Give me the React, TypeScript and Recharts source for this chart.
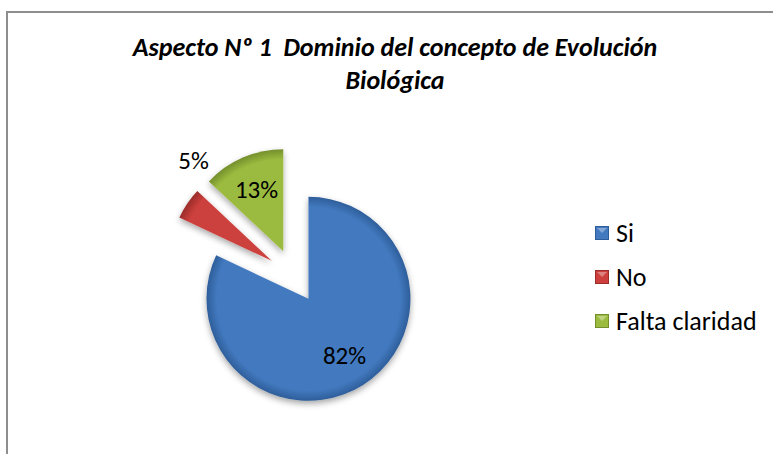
import { PieChart, Pie, Cell, Legend } from "recharts"

const categories = ["Si", "No", "Falta claridad"]
const values = [82, 5, 13]
const colors = ["#4279bf", "#cc3f3c", "#9bbb3f"]
const rims = ["#2e5e9a", "#9a2c2a", "#748f2c"]

const titleLines = ["Aspecto Nº 1  Dominio del concepto de Evolución", "Biológica"]

const FONT = "Calibri, Carlito, Lato, sans-serif"
const CX = 294
const CY = 276
const R = 102
const EXPLODE = 27
const RAD = Math.PI / 180

const data = categories.map((name, i) => ({ name, value: values[i] }))

const total = values.reduce((s, v) => s + v, 0)

// mid angle of every slice, recharts convention (start 90, clockwise)
const midAngles = values.map((v, i) => {
  const before = values.slice(0, i).reduce((s, x) => s + x, 0)
  return 90 - ((before + v / 2) / total) * 360
})

const polar = (angle: number, r: number) => ({
  x: Math.cos(-angle * RAD) * r,
  y: Math.sin(-angle * RAD) * r
})

function renderLabel(props: any) {
  const { cx, cy, midAngle, endAngle, outerRadius, percent, index } = props
  const off = polar(midAngle, EXPLODE)
  const inside = percent >= 0.1
  const p = inside
    ? polar(midAngle, outerRadius * 0.66)
    : polar(2 * endAngle - midAngle, outerRadius * 1.25)

  return (
    <text
      key={index}
      x={cx + off.x + p.x}
      y={cy + off.y + p.y}
      textAnchor="middle"
      dominantBaseline="central"
      fontFamily={FONT}
      fontSize={25}
      fill="#000"
    >
      {Math.round(percent * 100)}%
    </text>
  )
}

function renderLegend(props: any) {
  const items = [...props.payload].sort(
    (a: any, b: any) => categories.indexOf(a.value) - categories.indexOf(b.value)
  )
  return (
    <div style={{ fontFamily: FONT, fontSize: 26, color: "#000" }}>
      {items.map((item: any) => {
        const i = categories.indexOf(item.value)
        return (
          <div
            key={item.value}
            style={{ display: "flex", alignItems: "center", height: 44 }}
          >
            <svg width={14} height={14} style={{ marginRight: 7 }}>
              <rect x={0} y={0} width={14} height={14} fill={colors[i]} />
              <rect x={0.5} y={0.5} width={13} height={13} fill="none" stroke={rims[i]} strokeWidth={1} />
              <polygon points="2,2 12,2 7,7" fill="#ffffff" opacity={0.35} />
            </svg>
            <span>{item.value}</span>
          </div>
        )
      })}
    </div>
  )
}

export default function App() {
  return (
    <div
      style={{
        position: "absolute",
        left: 0,
        top: 0,
        width: 773,
        height: 454,
        overflow: "hidden",
        background: "#fff"
      }}
    >
      <svg width={0} height={0} style={{ position: "absolute" }}>
        <defs>
          <filter id="shadow" x="-20%" y="-20%" width="140%" height="140%">
            <feDropShadow dx={0} dy={3} stdDeviation={3} floodColor="#000" floodOpacity={0.35} />
          </filter>
          {colors.map((c, i) => (
            <radialGradient
              key={i}
              id={`bevel${i}`}
              gradientUnits="userSpaceOnUse"
              cx={CX}
              cy={CY}
              r={R}
            >
              <stop offset="0%" stopColor={c} />
              <stop offset="90%" stopColor={c} />
              <stop offset="100%" stopColor={rims[i]} />
            </radialGradient>
          ))}
        </defs>
      </svg>

      <div
        style={{
          position: "absolute",
          left: 6,
          top: 11,
          width: 820,
          height: 500,
          border: "2px solid #8e8e8e"
        }}
      />

      {titleLines.map((line, i) => (
        <div
          key={i}
          style={{
            position: "absolute",
            left: 0,
            width: 790,
            top: 31 + i * 33,
            textAlign: "center",
            fontFamily: FONT,
            fontSize: 26,
            fontWeight: "bold",
            fontStyle: "italic",
            whiteSpace: "pre",
            color: "#000"
          }}
        >
          {line}
        </div>
      ))}

      <PieChart
        width={773}
        height={454}
        margin={{ top: 0, right: 0, bottom: 0, left: 0 }}
        style={{ position: "absolute", left: 0, top: 0 }}
      >
        <Pie
          data={data}
          dataKey="value"
          nameKey="name"
          cx={CX}
          cy={CY}
          outerRadius={R}
          startAngle={90}
          endAngle={-270}
          stroke="none"
          label={renderLabel}
          labelLine={false}
          isAnimationActive={false}
        >
          {data.map((d, i) => {
            const off = polar(midAngles[i], EXPLODE)
            return (
              <Cell
                key={d.name}
                fill={`url(#bevel${i})`}
                filter="url(#shadow)"
                transform={`translate(${off.x},${off.y})`}
              />
            )
          })}
        </Pie>
        <Legend
          layout="vertical"
          align="right"
          verticalAlign="top"
          content={renderLegend}
          wrapperStyle={{ left: 595, top: 211, width: 180 }}
        />
      </PieChart>
    </div>
  )
}
